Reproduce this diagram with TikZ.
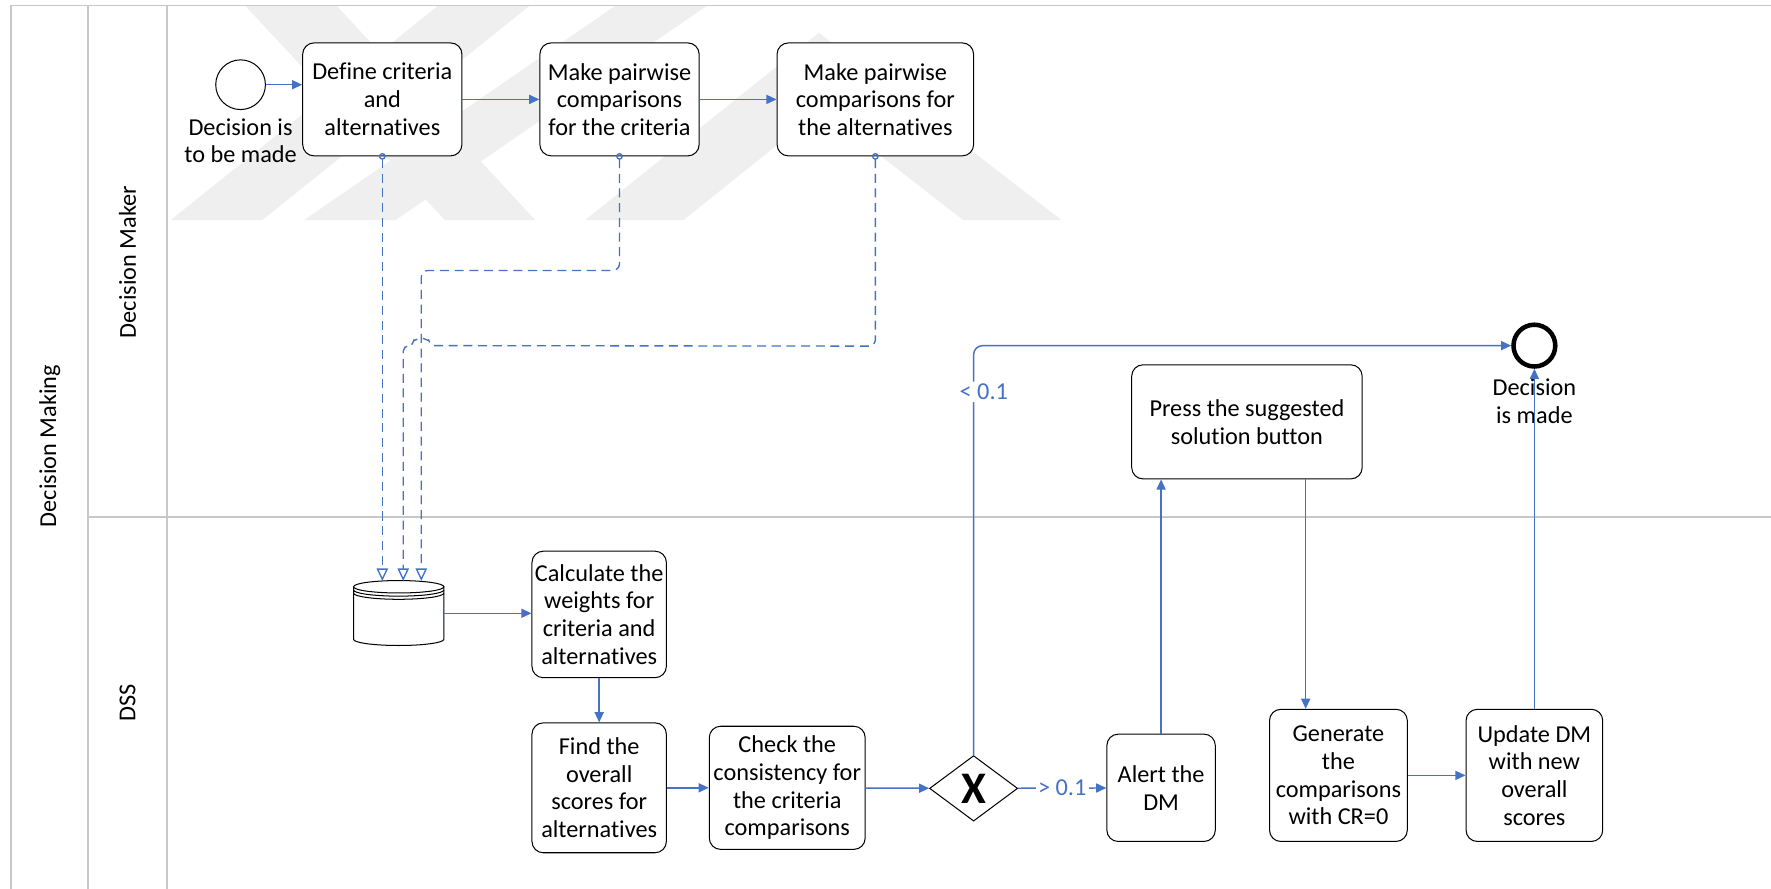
\documentclass[tikz,border=0pt]{standalone}
\usepackage{fontspec}
\setmainfont{Carlito}[Ligatures={NoCommon}]
\usetikzlibrary{arrows.meta,shapes.geometric,calc}
\definecolor{flowblue}{HTML}{4472C4}
\definecolor{lanegray}{HTML}{C8C8C8}
\definecolor{wmgray}{HTML}{EFEFEF}
\begin{document}
\begin{tikzpicture}[x=1pt,y=-1pt,
  every node/.style={font=\fontsize{21.5}{24.5}\selectfont},
  task/.style={draw, fill=white, rounded corners=10pt, line width=0.9pt, align=center, inner sep=0pt},
  flow/.style={draw=flowblue, line width=1.3pt, -{Triangle[length=9pt,width=8pt]}},
  assoc/.style={draw=flowblue, line width=1.2pt, dash pattern=on 8pt off 5pt, shorten <=-3pt,
     {Circle[open,length=6pt,width=6pt]}-{Triangle[open,length=11pt,width=10pt]}},
  lane/.style={draw=lanegray, line width=1.5pt},
  cond/.style={text=flowblue, fill=white, inner sep=2pt},
  lbl/.style={align=center, inner sep=0pt},
  wm/.style={fill=wmgray, draw=none},
]
\useasboundingbox (0,0) rectangle (1568,787);
\fill[white] (0,0) rectangle (1568,787);

% faint watermark
\fill[wm] (151,195) -- (232,195) -- (469,5) -- (388,5) -- cycle;
\fill[wm] (217,5) -- (298,5) -- (474,195) -- (394,195) -- cycle;
\fill[wm] (269,195) -- (350,195) -- (626,5) -- (545,5) -- cycle;
\fill[wm] (518,195) -- (725,29) -- (940,195) -- (853,195) -- (727,97) -- (605,195) -- cycle;

% pool and lanes
\draw[lane] (10,787) -- (10,5) -- (1568,5);
\draw[lane] (78,5) -- (78,787);
\draw[lane] (148,5) -- (148,787);
\draw[lane] (78,458) -- (1568,458);
\node[rotate=90] (pool) at (44,395) {Decision Making};
\node[rotate=90] (laneA) at (113,232) {Decision Maker};
\node[rotate=90] (laneB) at (113,622) {DSS};

% events
\node[draw, fill=white, circle, minimum size=44pt, line width=0.9pt, inner sep=0pt] (start) at (213,75) {};
\node[lbl] (startlbl) at (213,124.5) {Decision is\\to be made};
\node[draw, circle, minimum size=37pt, line width=4pt, inner sep=0pt] (end) at (1358.5,306) {};
\node[lbl] (endlbl) at (1358.5,355.5) {Decision\\is made};

% tasks
\node[task, minimum width=141pt, minimum height=100pt] (t1) at (338.5,88) {Define criteria\\and\\alternatives};
\node[task, minimum width=141pt, minimum height=100pt] (t2) at (548.5,88) {Make pairwise\\comparisons\\for the criteria};
\node[task, minimum width=174pt, minimum height=100pt] (t3) at (775,88) {Make pairwise\\comparisons for\\the alternatives};
\node[task, minimum width=119pt, minimum height=112pt] (calc) at (530.5,544) {Calculate the\\weights for\\criteria and\\alternatives};
\node[task, minimum width=119pt, minimum height=115pt] (find) at (530.5,697.5) {Find the\\overall\\scores for\\alternatives};
\node[task, minimum width=138pt, minimum height=109pt] (check) at (697,697.5) {Check the\\consistency for\\the criteria\\comparisons};
\node[task, minimum width=96pt, minimum height=95pt] (alert) at (1028,697.5) {Alert the\\DM};
\node[task, minimum width=204pt, minimum height=101pt] (press) at (1104,373.5) {Press the suggested\\solution button};
\node[task, minimum width=122pt, minimum height=117pt] (gen) at (1185,686.5) {Generate\\the\\comparisons\\with CR=0};
\node[task, minimum width=121pt, minimum height=117pt] (upd) at (1358.5,686.5) {Update DM\\with new\\overall\\scores};

% gateway
\node[draw, diamond, line width=0.9pt, minimum width=78pt, minimum height=58pt, inner sep=0pt,
  label={[inner sep=0pt, font=\fontsize{40}{40}\selectfont\bfseries]center:X}] (gw) at (862,698) {};

% data store
\node[minimum width=80pt, minimum height=57pt, inner sep=0pt] (db) at (353,543) {};
\begin{scope}[line width=0.9pt]
  \draw[fill=white] (313,519.5) -- (313,566) arc[start angle=180,end angle=360,x radius=40pt,y radius=5.5pt] -- (393,519.5);
  \draw (353,519.5) ellipse [x radius=40pt, y radius=5.5pt];
  \draw (313,522.3) arc[start angle=180,end angle=360,x radius=40pt,y radius=5.5pt];
  \draw (313,525.1) arc[start angle=180,end angle=360,x radius=40pt,y radius=5.5pt];
\end{scope}

% sequence flows
\draw[flow] (start.east) -- (start.east -| t1.west);
\draw[flow] (t1) -- (t2);
\draw[flow] (t2) -- (t3);
\draw[flow] (db.east) -- (db.east -| calc.west);
\draw[flow] (calc) -- (find);
\draw[flow] (find) -- (check);
\draw[flow] (check) -- (gw);
\draw[flow] (gw) -- node[cond]{> 0.1} (alert);
\draw[flow, rounded corners=8pt] (gw.north) -- node[cond, pos=0.887, xshift=9pt]{< 0.1} (gw.north |- end.west) -- (end.west);
\draw[flow] (alert.north) -- (alert.north |- press.south);
\draw[flow] ([xshift=52pt]press.south) -- ([xshift=52pt]press.south |- gen.north);
\draw[flow] (gen) -- (upd);
\draw[flow] (upd.north) -- (end.south);

% data associations
\draw[assoc] (t1.south) -- (t1.south |- db.north);
\draw[assoc, rounded corners=6pt] (t2.south) -- ++(0,101) -| ([xshift=20pt]db.north);
\draw[assoc, rounded corners=5pt] (t3.south) -- ++(0,168) -- (379.5,306)
   arc[start angle=0,end angle=180,radius=6.5pt] -- (357,306) -- ([xshift=4pt]db.north);
\end{tikzpicture}
\end{document}
